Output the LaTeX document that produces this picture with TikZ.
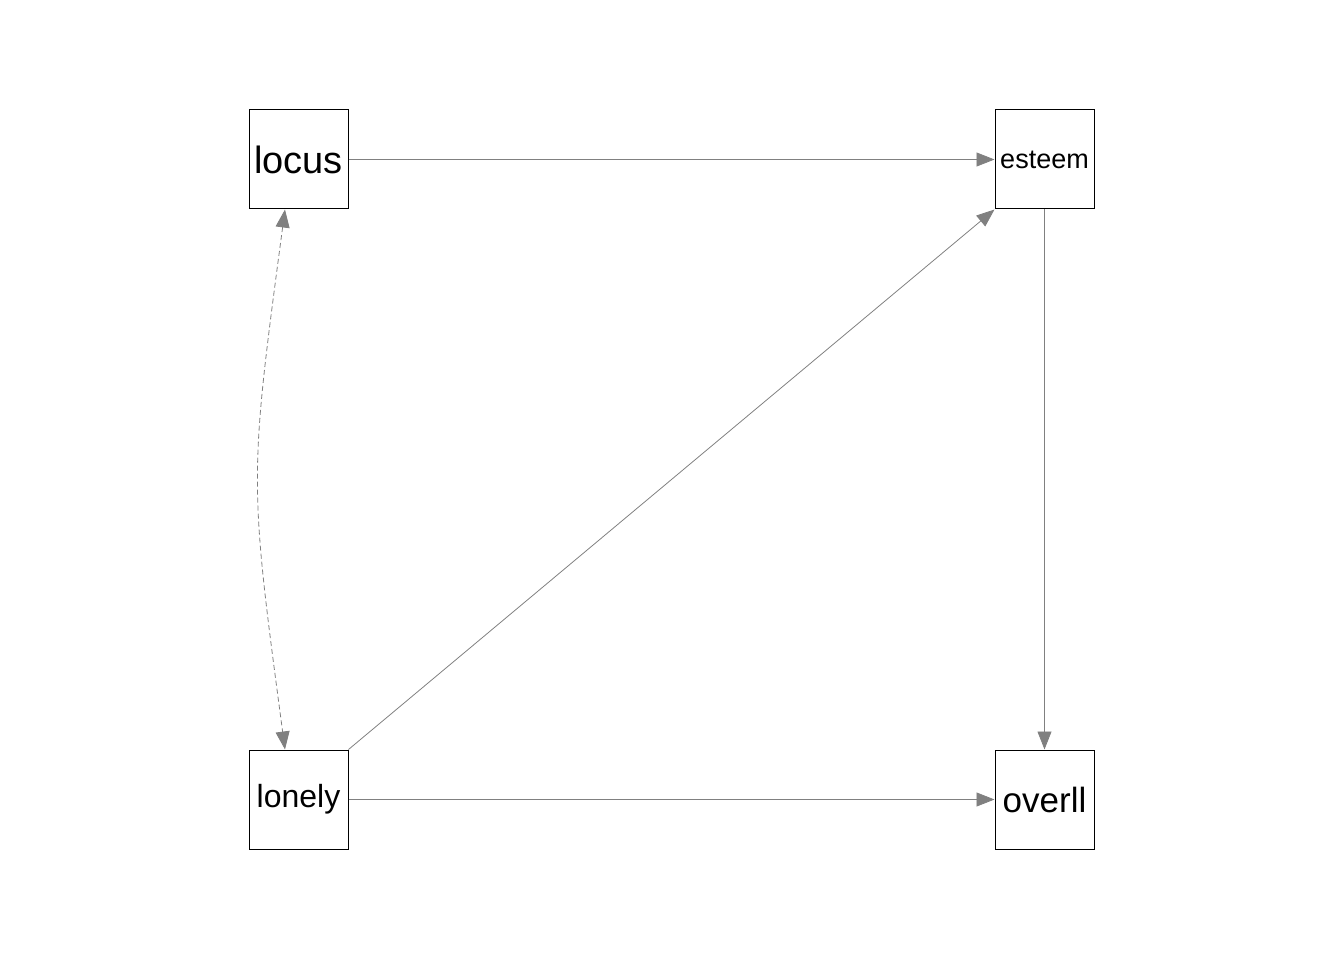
\documentclass[tikz,border=0pt]{standalone}
\usepackage{fontspec}
\setmainfont{Liberation Sans}
\usetikzlibrary{arrows.meta}
\begin{document}
\begin{tikzpicture}[x=1pt,y=-1pt,
  var/.style={draw=black,line width=1pt,minimum width=99pt,minimum height=99pt,inner sep=0pt,fill=white},
  path/.style={draw=gray,line width=0.8pt,-{Triangle[length=18pt,width=14pt]}},
  cov/.style={draw=gray,line width=0.8pt,dashed,dash pattern=on 5pt off 3pt,
    {Triangle[length=18pt,width=14pt]}-{Triangle[length=18pt,width=14pt]}}]
\useasboundingbox (0,0) rectangle (1344,960);
\node[var,font=\fontsize{38}{40}\selectfont] (locus) at (298.5,159.5) {\raisebox{-2pt}{locus}};
\node[var,font=\fontsize{27}{30}\selectfont] (esteem) at (1044.5,159.5) {\raisebox{-2pt}{esteem}};
\node[var,font=\fontsize{32}{36}\selectfont] (lonely) at (298.5,799.5) {\raisebox{-1pt}{lonely}};
\node[var,font=\fontsize{35}{38}\selectfont] (overll) at (1044.5,799.5) {\raisebox{-2pt}{overll}};
\coordinate (bend) at (249,479.5);
\draw[path] (locus.east) -- (esteem.west);
\draw[path] (esteem.south) -- (overll.north);
\draw[path] (lonely.east) -- (overll.west);
\draw[path] (lonely.north east) -- (esteem.south west);
\draw[cov] ([xshift=-13.5pt]locus.south) .. controls (bend) .. ([xshift=-13.5pt]lonely.north);
\end{tikzpicture}
\end{document}
